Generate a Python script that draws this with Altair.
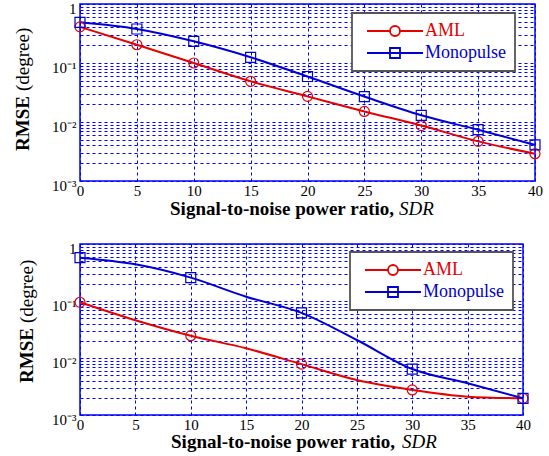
import altair as alt
import pandas as pd

snr = [0, 5, 10, 15, 20, 25, 30, 35, 40]
series = ["AML", "Monopulse"]
colors = ["#e60000", "#0000d2"]
shapes = ["circle", "square"]

top_aml = [0.41, 0.204, 0.100, 0.049, 0.0272, 0.0151, 0.0087, 0.0047, 0.0029]
top_mono = [0.49, 0.377, 0.233, 0.125, 0.059, 0.027, 0.013, 0.0074, 0.0041]
bot_aml = [0.095, 0.046, 0.0246, 0.0148, 0.0078, 0.0041, 0.00275, 0.0021, 0.00196]
bot_mono = [0.575, 0.44, 0.257, 0.119, 0.062, 0.0207, 0.0064, 0.0036, 0.00196]

x_ticks = [0, 5, 10, 15, 20, 25, 30, 35, 40]
y_ticks = [m * 10.0 ** e for e in (-3, -2, -1) for m in range(1, 10)] + [1.0]

x_title_bold = "Signal-to-noise power ratio,"
x_title_ital = "SDR"
y_title_bold = "RMSE"
y_title_norm = "(degree)"

SERIF = "Liberation Serif"
GRID = "#0000ff"

label_expr = (
    "abs(datum.value - 1) < 1e-9 ? '1' : "
    "abs(datum.value - 0.1) < 1e-9 ? '10\u207b\u00b9' : "
    "abs(datum.value - 0.01) < 1e-9 ? '10\u207b\u00b2' : "
    "abs(datum.value - 0.001) < 1e-9 ? '10\u207b\u00b3' : ''"
)

sym_circle = "M-5.6,0H-1 A1,1 0 1,1 1,0 A1,1 0 1,1 -1,0 M1,0H5.6"
sym_square = "M-5.6,0H5.6 M-1,-1H1V1H-1Z"


def panel(aml, mono, step, w, h, leg_x, leg_y, xt_bold_end, xt_ital_start, xt_y,
          yt_split, yt_x):
    df = pd.DataFrame({
        "snr": snr * 2,
        "rmse": aml + mono,
        "series": [series[0]] * len(snr) + [series[1]] * len(snr),
    })
    legend = alt.Legend(
        title=None, orient="none", legendX=leg_x, legendY=leg_y,
        fillColor="white", strokeColor="#555555", padding=9,
        symbolType=alt.ExprRef(expr=f"datum.value == 'AML' ? '{sym_circle}' : '{sym_square}'"),
        symbolSize=100, symbolStrokeWidth=1.8, symbolOffset=25,
        symbolFillColor="transparent", symbolOpacity=1,
        labelOffset=21, labelFont=SERIF, labelFontSize=18,
        labelColor=alt.ExprRef(expr=f"datum.value == 'AML' ? '{colors[0]}' : '{colors[1]}'"),
        rowPadding=4,
    )
    xaxis = alt.Axis(values=x_ticks, title=None, grid=True, gridColor=GRID,
                     gridDash=[3, 3], gridWidth=1, ticks=False, domain=False,
                     labelFont=SERIF, labelFontSize=15, labelColor="black",
                     labelPadding=2, labelFlush=False)
    yaxis = alt.Axis(values=y_ticks, title=None, grid=True, gridColor=GRID,
                     gridDash=[3, 3], gridWidth=1, ticks=False, domain=False,
                     labelFont=SERIF, labelFontSize=15, labelColor="black",
                     labelPadding=4, labelExpr=label_expr, labelOffset=4)
    xenc = alt.X("snr:Q", scale=alt.Scale(domain=[0, 40], nice=False), axis=xaxis)
    yenc = alt.Y("rmse:Q", scale=alt.Scale(type="log", domain=[0.001, 1], nice=False), axis=yaxis)
    cscale = alt.Scale(domain=series, range=colors)
    base = alt.Chart(df)
    line = base.mark_line(strokeWidth=2, interpolate="monotone", clip=False).encode(
        x=xenc, y=yenc, color=alt.Color("series:N", scale=cscale, legend=legend))
    layers = [line]
    for s, shp in zip(series, shapes):
        layers.append(
            base.transform_filter(f"datum.series == '{s}' && datum.snr % {step} == 0")
            .mark_point(size=100, strokeWidth=1.2, filled=False, opacity=1, shape=shp)
            .encode(x=xenc, y=yenc, color=alt.Color("series:N", scale=cscale, legend=None))
        )

    tdf = pd.DataFrame({"a": [x_title_bold], "b": [x_title_ital], "c": [y_title_bold], "d": [y_title_norm]})
    tb = alt.Chart(tdf)
    fs = 19
    layers += [
        tb.mark_text(font=SERIF, fontSize=fs, fontWeight="bold", align="right", baseline="middle",
                     color="black").encode(text="a:N", x=alt.value(xt_bold_end), y=alt.value(h + xt_y)),
        tb.mark_text(font=SERIF, fontSize=fs, fontStyle="italic", align="left", baseline="middle",
                     color="black").encode(text="b:N", x=alt.value(xt_ital_start), y=alt.value(h + xt_y)),
        tb.mark_text(font=SERIF, fontSize=fs, fontWeight="bold", align="right", baseline="middle",
                     angle=270, color="black").encode(text="c:N", x=alt.value(yt_x), y=alt.value(yt_split)),
        tb.mark_text(font=SERIF, fontSize=fs, align="left", baseline="middle",
                     angle=270, color="black").encode(text="d:N", x=alt.value(yt_x), y=alt.value(yt_split - 5)),
    ]
    return alt.layer(*layers).properties(width=w, height=h)


top = panel(top_aml, top_mono, 5, 455, 177, 272, 9, 314, 319, 28, 92, -57)
bot = panel(bot_aml, bot_mono, 10, 443, 171, 270, 8, 315, 322, 27, 84, -53)

chart = alt.vconcat(top, bot, spacing=20).resolve_scale(color="independent").properties(
    padding={"left": 13, "top": 0, "right": 5, "bottom": 2}
).configure_view(stroke=GRID, strokeWidth=1.5).configure_legend(
    strokeWidth=1.8
)

chart.save("out.html", embed_options={"renderer": "svg", "actions": False})
